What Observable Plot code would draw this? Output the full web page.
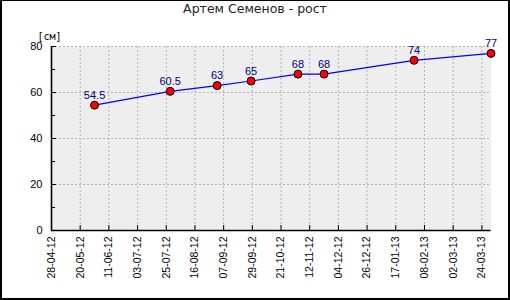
<!DOCTYPE html>
<html>
<head>
<meta charset="utf-8">
<script src="https://cdn.jsdelivr.net/npm/d3@7"></script>
<script src="https://cdn.jsdelivr.net/npm/@observablehq/plot@0.6"></script>
<style>
  html, body { margin: 0; padding: 0; background: #fff; }
  #wrap { position: relative; width: 510px; height: 300px; box-sizing: border-box;
          border-style: solid; border-color: #000; border-width: 1px 2px 2px 2px; background: #fff; overflow: hidden; }
  #title { height: 24px; line-height: 20px; text-align: center; font: 12.5px "DejaVu Sans", sans-serif; color: #222; }
  svg { display: block; }
</style>
</head>
<body>
<div id="wrap">
  <div id="title">Артем Семенов - рост</div>
  <div id="chart"></div>
</div>
<script>
// Data
const measureDates = ["2012-05-31","2012-07-28","2012-09-02","2012-09-28","2012-11-03","2012-11-23","2013-01-31","2013-03-31"];
const heights = [54.5, 60.5, 63, 65, 68, 68, 74, 77];
const heightLabels = ["54.5","60.5","63","65","68","68","74","77"];
const xTickLabels = ["28-04-12","20-05-12","11-06-12","03-07-12","25-07-12","16-08-12","07-09-12","29-09-12",
                     "21-10-12","12-11-12","04-12-12","26-12-12","17-01-13","08-02-13","02-03-13","24-03-13"];
const yMajorTicks = [0, 20, 40, 60, 80];
const yMinorTicks = [10, 30, 50, 70];
const unitLabel = "[см]";

const parseTick = d3.utcParse("%d-%m-%y");
const fmtTick = d3.utcFormat("%d-%m-%y");
const xTicks = xTickLabels.map(parseTick);
const data = measureDates.map((d, i) => ({date: new Date(d + "T00:00:00Z"), value: heights[i], label: heightLabels[i]}));

const chart = Plot.plot({
  width: 506,
  height: 273,
  marginTop: 21,
  marginLeft: 49,
  marginRight: 17.5,
  marginBottom: 68,
  style: {fontFamily: "'Liberation Sans', Arial, sans-serif", fontSize: "11px", color: "#000", background: "transparent"},
  x: {type: "utc", domain: [xTicks[0], data[data.length - 1].date]},
  y: {domain: [0, 80]},
  marks: [
    Plot.frame({fill: "#eeeeee", stroke: null}),
    Plot.gridX(xTicks.slice(1), {stroke: "#b4b4b4", strokeOpacity: 1, strokeDasharray: "2,2"}),
    Plot.gridY(yMajorTicks.slice(1), {stroke: "#b4b4b4", strokeOpacity: 1, strokeDasharray: "2,2"}),
    Plot.axisY(yMajorTicks, {tickSize: -5, tickPadding: 14, fontSize: 11, label: null}),
    Plot.axisY(yMinorTicks, {tickSize: -4, tickFormat: () => "", label: null}),
    Plot.axisX(xTicks, {tickSize: -5, tickPadding: 11, tickRotate: -90, tickFormat: fmtTick, fontSize: 10.5, label: null}),
    Plot.ruleX([xTicks[0]], {stroke: "#000", strokeWidth: 1.6}),
    Plot.ruleY([0], {stroke: "#000", strokeWidth: 1.6}),
    Plot.text([unitLabel], {frameAnchor: "top-left", dx: -2, dy: -14, text: d => d, textAnchor: "middle", fontSize: 10, fontFamily: "'DejaVu Sans Mono', monospace"}),
    Plot.line(data, {x: "date", y: "value", stroke: "#0000ff", strokeWidth: 1.2}),
    Plot.dot(data, {x: "date", y: "value", r: 4, fill: "#ff0000", stroke: "#000", strokeWidth: 1}),
    Plot.text(data, {x: "date", y: "value", text: "label", dy: -10, fill: "#000080", fontSize: 11})
  ]
});
document.getElementById("chart").appendChild(chart);
</script>
</body>
</html>
